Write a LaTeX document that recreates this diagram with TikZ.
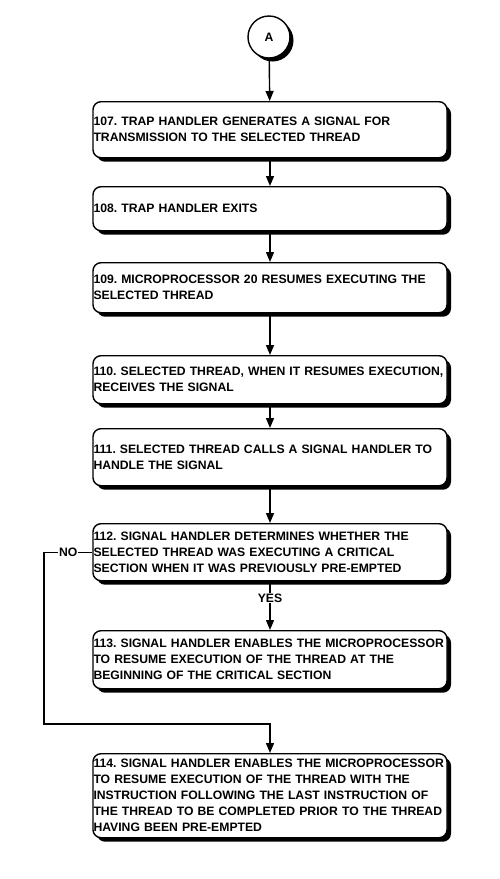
\documentclass[tikz,border=0pt]{standalone}
\usepackage{fontspec}
\setmainfont{Liberation Sans}
\usetikzlibrary{positioning,shadows,arrows.meta}

\newcommand\stepsetup{\fontsize{12.2}{16}\selectfont\bfseries\frenchspacing\hyphenpenalty10000\relax}

\tikzset{
  stepfont/.style={font=\stepsetup},
  stepbox/.style={draw, line width=1.4pt, rounded corners=8pt, fill=white,
    text width=353pt, align=left, inner xsep=0.5pt, anchor=north, stepfont,
    drop shadow={shadow xshift=4pt, shadow yshift=-4pt, fill=black, opacity=1}},
  flow/.style={line width=1.4pt, -{Triangle[length=10pt,width=8pt]}},
  tag/.style={fill=white, inner sep=1pt, stepfont}
}

\begin{document}
\begin{tikzpicture}[x=1pt,y=-1pt]
  \useasboundingbox (0,0) rectangle (500,879);

  % Connector
  \node[circle, draw, line width=1.4pt, fill=white, minimum size=42pt, stepfont,
    drop shadow={shadow xshift=3.5pt, shadow yshift=-3.5pt, fill=black, opacity=1}] (A) at (269,37) {A};

  % Steps
  \node[stepbox, minimum height=56pt] (s107) at (270,101)
    {107. TRAP HANDLER GENERATES A SIGNAL FOR\\TRANSMISSION TO THE SELECTED THREAD};
  \node[stepbox, minimum height=44pt] (s108) at (270,186)
    {108. TRAP HANDLER EXITS};
  \node[stepbox, minimum height=50pt] (s109) at (270,262)
    {109. MICROPROCESSOR 20 RESUMES EXECUTING THE\\SELECTED THREAD};
  \node[stepbox, minimum height=48pt] (s110) at (270,355)
    {110. SELECTED THREAD, WHEN IT RESUMES EXECUTION,\\RECEIVES THE SIGNAL};
  \node[stepbox, minimum height=57pt] (s111) at (270,428)
    {111. SELECTED THREAD CALLS A SIGNAL HANDLER TO\\HANDLE THE SIGNAL};
  \node[stepbox, minimum height=57pt] (s112) at (270,523)
    {112. SIGNAL HANDLER DETERMINES WHETHER THE\\SELECTED THREAD WAS EXECUTING A CRITICAL\\SECTION WHEN IT WAS PREVIOUSLY PRE-EMPTED};
  \node[stepbox, minimum height=58pt] (s113) at (270,630)
    {113. SIGNAL HANDLER ENABLES THE MICROPROCESSOR\\TO RESUME EXECUTION OF THE THREAD AT THE\\BEGINNING OF THE CRITICAL SECTION};
  \node[stepbox, minimum height=84pt] (s114) at (270,753)
    {114. SIGNAL HANDLER ENABLES THE MICROPROCESSOR\\TO RESUME EXECUTION OF THE THREAD WITH THE\\INSTRUCTION FOLLOWING THE LAST INSTRUCTION OF\\THE THREAD TO BE COMPLETED PRIOR TO THE THREAD\\HAVING BEEN PRE-EMPTED};

  % Arrows
  \draw[flow] (A) -- (s107);
  \draw[flow] (s107) -- (s108);
  \draw[flow] (s108) -- (s109);
  \draw[flow] (s109) -- (s110);
  \draw[flow] (s110) -- (s111);
  \draw[flow] (s111) -- (s112);
  \draw[flow] (s112) -- node[tag, pos=0.34] {YES} (s113);

  % NO branch
  \coordinate (noturn) at (44,724);
  \draw[flow] (s112.west) -- node[tag] {NO} (s112.west -| noturn)
    -- (noturn) -| (s114.north);
\end{tikzpicture}
\end{document}
